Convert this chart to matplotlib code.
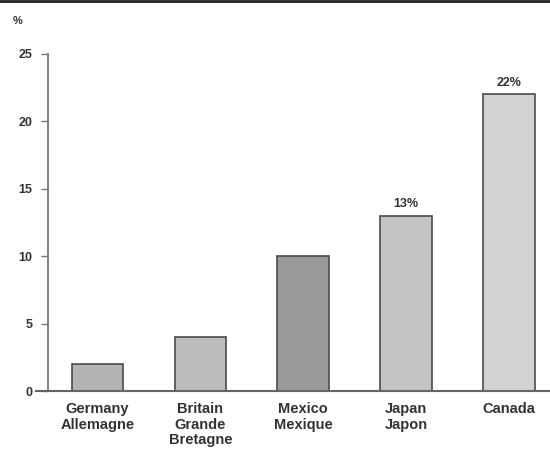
import matplotlib.pyplot as plt
from matplotlib.lines import Line2D

pays = ["Germany\nAllemagne", "Britain\nGrande\nBretagne", "Mexico\nMexique",
        "Japan\nJapon", "Canada"]
valeurs = [2, 4, 10, 13, 22]
etiquettes = {3: "13%", 4: "22%"}
yticks = [0, 5, 10, 15, 20, 25]

plt.rcParams["font.family"] = ["Liberation Sans", "DejaVu Sans"]
plt.rcParams["font.weight"] = "bold"
texte = "#333333"

fig = plt.figure(figsize=(5.5, 4.65), dpi=100)
ax = fig.add_axes([0.0873, 0.1591, 0.9127, 0.7248])

couleurs = ["#b4b4b4", "#bcbcbc", "#9a9a9a", "#c4c4c4", "#d2d2d2"]
x = range(len(pays))
barres = ax.bar(x, valeurs, width=0.5, color=couleurs,
                edgecolor="#4a4a4a", linewidth=1.2, zorder=2)

for i, txt in etiquettes.items():
    ax.annotate(txt, (i, valeurs[i]), xytext=(0, 4), textcoords="offset points",
                ha="center", va="bottom", fontsize=9, color=texte)

ax.set_xlim(-0.48, 4.4)
ax.set_ylim(0, 25)
ax.set_yticks(yticks)
ax.set_xticks(list(x))
ax.set_xticklabels(pays, fontsize=10.5, color=texte, linespacing=1.15)
ax.tick_params(axis="x", length=0, pad=8)
ax.tick_params(axis="y", length=5, width=1, color="#777777", labelsize=9,
               labelcolor=texte, pad=6)

for s in ["top", "right"]:
    ax.spines[s].set_visible(False)
ax.spines["left"].set_color("#777777")
ax.spines["left"].set_linewidth(1.3)
ax.spines["bottom"].set_color("#666666")
ax.spines["bottom"].set_linewidth(1.5)

# petit prolongement de l'axe horizontal a gauche
ax.plot([-0.6, -0.48], [0, 0], color="#666666", lw=1.5, clip_on=False)

ax.text(-0.06, 1.09, "%", transform=ax.transAxes, fontsize=8,
        color=texte, ha="center")

# filet en haut de la page
fig.add_artist(Line2D([0, 1], [0.997, 0.997], color="#222222", lw=2))

fig.savefig("out.png", dpi=100)
